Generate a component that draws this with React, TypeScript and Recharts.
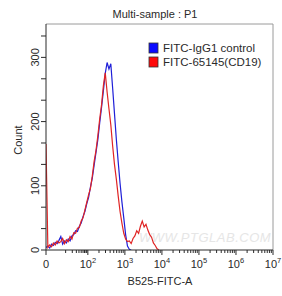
import React from 'react';
import { LineChart, Line, XAxis, YAxis, ReferenceLine, Customized } from 'recharts';

// bin positions on the display scale (decades: 2 = 10^2), counts per bin
const binPos = [
  0.87, 0.92, 0.97, 1.02, 1.07, 1.12, 1.17, 1.22, 1.27, 1.32,
  1.37, 1.42, 1.47, 1.52, 1.57, 1.62, 1.67, 1.72, 1.77, 1.82,
  1.87, 1.92, 1.97, 2.02, 2.07, 2.12, 2.17, 2.22, 2.27, 2.32,
  2.37, 2.42, 2.47, 2.52, 2.57, 2.62, 2.67, 2.72, 2.77, 2.82,
  2.87, 2.92, 2.97, 3.02, 3.07, 3.12, 3.17, 3.22, 3.27, 3.32,
  3.37, 3.42, 3.47, 3.52, 3.57, 3.62, 3.67, 3.72, 3.77, 3.82,
  3.87, 3.92,
];
const igg1Counts = [
  4, 6, 3, 9, 7, 12, 10, 15, 21, 9,
  14, 11, 17, 14, 22, 24, 30, 29, 37, 42,
  52, 60, 72, 82, 98, 112, 132, 152, 172, 198,
  222, 248, 275, 292, 282, 290, 252, 212, 172, 137,
  104, 75, 50, 24, 6, 1, 0, null, null, null,
  null, null, null, null, null, null, null, null, null, null,
  null, null,
];
const cd19Counts = [
  165, 4, 8, 5, 11, 8, 14, 11, 13, 18,
  10, 16, 13, 21, 17, 27, 26, 34, 35, 45,
  50, 62, 74, 86, 96, 115, 138, 155, 178, 204,
  226, 256, 276, 246, 220, 195, 162, 133, 110, 84,
  60, 42, 26, 17, 13, 14, 10, 18, 22, 30,
  26, 37, 45, 36, 40, 31, 24, 20, 11, 7,
  2, 0,
];

const seriesNames = ['FITC-IgG1 control', 'FITC-65145(CD19)'];
const seriesColors = ['#1f1fd8', '#e02424'];
const legendColors = ['#0a0aff', '#ff0a0a'];

const zeroPos = 0.87;
const xDecades = [2, 3, 4, 5, 6, 7];
const linearMinor = [1.4, 1.58, 1.69, 1.76, 1.82, 1.87, 1.91, 1.95, 1.97];
const yTicks = [0, 33.33, 66.67, 100, 133.33, 166.67, 200, 233.33, 266.67, 300, 333.33];
const yLabeled = [0, 100, 200, 300];

const data = binPos.map((pos, i) => ({ pos, igg1: igg1Counts[i], cd19: cd19Counts[i] }));

const xTicks = [zeroPos, ...linearMinor];
xDecades.forEach((d) => {
  xTicks.push(d);
  if (d < 7) for (let m = 2; m <= 9; m++) xTicks.push(d + Math.log10(m));
});

const font = '"Liberation Sans", Arial, sans-serif';
const ink = '#2a2a2a';

const XTick = (props: any) => {
  const { x, y, payload } = props;
  const v = payload.value;
  const major = v === zeroPos || xDecades.includes(v);
  return (
    <g>
      <line x1={x} x2={x} y1={y} y2={y + (major ? 5 : 3)} stroke={ink} />
      {major && v === zeroPos && (
        <text x={x} y={y + 18} textAnchor="middle" fontSize={11} fill={ink} fontFamily={font}>0</text>
      )}
      {major && v !== zeroPos && (
        <text x={x} y={y + 18} textAnchor="middle" fontSize={11} fill={ink} fontFamily={font}>
          10<tspan dy={-5} fontSize={7.5}>{v}</tspan>
        </text>
      )}
    </g>
  );
};

const YTick = (props: any) => {
  const { x, y, payload } = props;
  const v = Math.round(payload.value);
  const labeled = yLabeled.includes(v) && Math.abs(payload.value - v) < 0.01;
  return (
    <g>
      <line x1={x - 5} x2={x} y1={y} y2={y} stroke={ink} />
      {labeled && (
        <text
          x={x - 7}
          y={y}
          transform={`rotate(-90, ${x - 7}, ${y})`}
          textAnchor="middle"
          fontSize={11}
          fill={ink}
          fontFamily={font}
        >
          {v}
        </text>
      )}
    </g>
  );
};

const Decor = () => (
  <g fontFamily={font}>
    <text x={155} y={18} textAnchor="middle" fontSize={11} fill={ink}>Multi-sample : P1</text>
    <text x={22} y={140} transform="rotate(-90, 22, 140)" textAnchor="middle" fontSize={11} fill={ink}>Count</text>
    <text x={160} y={285} textAnchor="middle" fontSize={11} fill={ink}>B525-FITC-A</text>
    <text x={205} y={242} textAnchor="middle" fontSize={13} fill="#e6e6e6" fontStyle="italic" letterSpacing={0.5}>
      WWW.PTGLAB.COM
    </text>
    {seriesNames.map((name, i) => (
      <g key={name}>
        <rect x={149} y={43 + i * 14} width={9} height={10} fill={legendColors[i]} stroke="#333" strokeWidth={0.8} />
        <text x={163} y={52 + i * 14} fontSize={11.5} fill={ink}>{name}</text>
      </g>
    ))}
  </g>
);

export default function App() {
  return (
    <div style={{ position: 'fixed', left: 0, top: 0, background: '#fff' }}>
      <LineChart width={282} height={296} data={data} margin={{ top: 24, right: 9, bottom: 16, left: 0 }}>
        <ReferenceLine y={352} stroke="#9a9a9a" />
        <ReferenceLine x={7} stroke="#9a9a9a" />
        <XAxis
          dataKey="pos"
          type="number"
          domain={[zeroPos, 7]}
          ticks={xTicks}
          interval={0}
          height={30}
          tickSize={0}
          tickMargin={0}
          tick={<XTick />}
          axisLine={{ stroke: ink }}
          allowDataOverflow
        />
        <YAxis
          type="number"
          domain={[0, 352]}
          ticks={yTicks}
          interval={0}
          width={46}
          tickSize={0}
          tickMargin={0}
          tick={<YTick />}
          axisLine={{ stroke: ink }}
          allowDataOverflow
        />
        <Line
          dataKey="igg1"
          name={seriesNames[0]}
          stroke={seriesColors[0]}
          strokeWidth={1.2}
          dot={false}
          type="linear"
          isAnimationActive={false}
        />
        <Line
          dataKey="cd19"
          name={seriesNames[1]}
          stroke={seriesColors[1]}
          strokeWidth={1.2}
          dot={false}
          type="linear"
          isAnimationActive={false}
        />
        <Customized component={<Decor />} />
      </LineChart>
    </div>
  );
}
